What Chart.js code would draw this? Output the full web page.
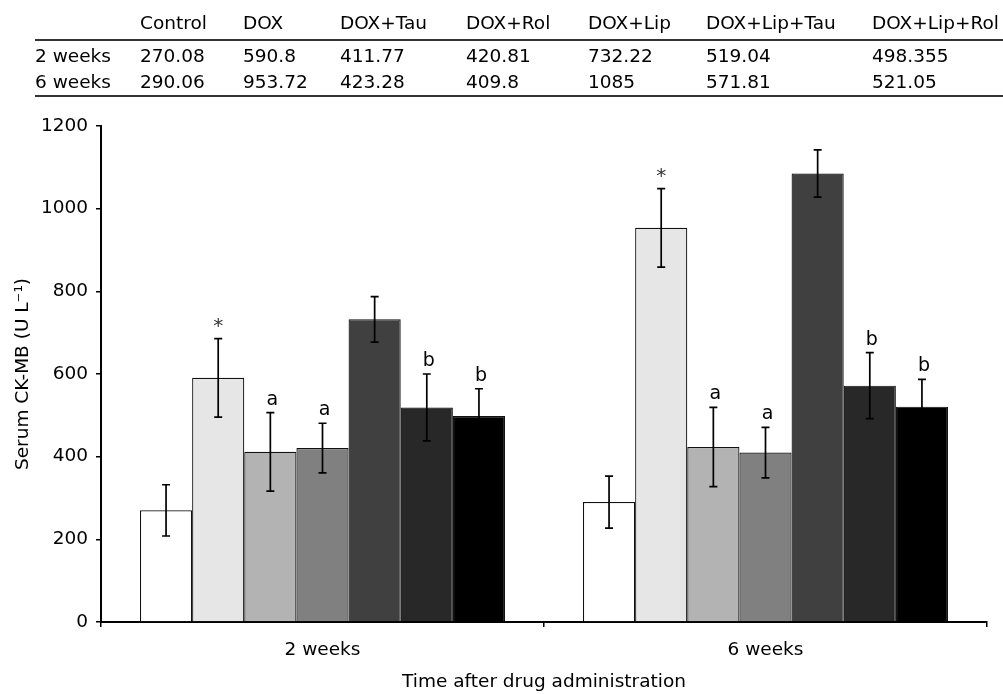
<!DOCTYPE html>
<html><head><meta charset="utf-8">
<script src="https://cdn.jsdelivr.net/npm/chart.js@4.4.1/dist/chart.umd.min.js"></script>
<style>
body{margin:0;background:#fff;}
#wrap{position:relative;width:1003px;height:694px;overflow:hidden;}
canvas{position:absolute;left:0;top:0;}
.t{position:absolute;font-family:"DejaVu Sans";font-size:18.5px;color:#000;white-space:nowrap;line-height:22px;transform:translateY(-50%);}
.rule{position:absolute;left:35px;right:0;height:2px;background:#333;}
</style></head><body>
<div id="wrap"><canvas id="c" width="1003" height="694"></canvas><div id="tbl"></div></div>
<script>
const categories = ['2 weeks', '6 weeks'];
const treatments = ['Control', 'DOX', 'DOX+Tau', 'DOX+Rol', 'DOX+Lip', 'DOX+Lip+Tau', 'DOX+Lip+Rol'];
const values2wk = [270.08, 590.8, 411.77, 420.81, 732.22, 519.04, 498.355];
const values6wk = [290.06, 953.72, 423.28, 409.8, 1085, 571.81, 521.05];
const err2wk = [62, 95, 95, 60, 55, 81, 66];
const err6wk = [63, 95, 96, 61, 57, 80, 66];
const sigMarks = ['', '*', 'a', 'a', '', 'b', 'b'];
const yTicks = [0, 200, 400, 600, 800, 1000, 1200];
const barColors = ['#ffffff', '#e6e6e6', '#b3b3b3', '#808080', '#404040', '#282828', '#000000'];

// ---- table above the chart (real text) ----
const tbl = document.getElementById('tbl');
const colX = [140, 243, 340, 466, 588, 706, 872];
const rowY = [23, 56, 82];
function addText(txt, x, y) {
  const d = document.createElement('div');
  d.className = 't'; d.textContent = txt;
  d.style.left = x + 'px'; d.style.top = y + 'px';
  tbl.appendChild(d);
}
treatments.forEach((t, i) => addText(t, colX[i], rowY[0]));
addText(categories[0], 35, rowY[1]);
addText(categories[1], 35, rowY[2]);
values2wk.forEach((v, i) => addText(String(v), colX[i], rowY[1]));
values6wk.forEach((v, i) => addText(String(v), colX[i], rowY[2]));
[39, 95].forEach(y => { const r = document.createElement('div'); r.className = 'rule'; r.style.top = y + 'px'; tbl.appendChild(r); });

// ---- chart ----
const FONT = 'DejaVu Sans';
const datasets = treatments.map((t, i) => ({
  label: t,
  data: [values2wk[i], values6wk[i]],
  errors: [err2wk[i], err6wk[i]],
  sig: sigMarks[i],
  backgroundColor: barColors[i],
  borderColor: '#111',
  borderWidth: 1.2,
  inflateAmount: 0
}));

const errPlugin = {
  id: 'errbars',
  afterDatasetsDraw(chart) {
    const ctx = chart.ctx, y = chart.scales.y;
    chart.data.datasets.forEach((ds, di) => {
      const meta = chart.getDatasetMeta(di);
      meta.data.forEach((bar, ci) => {
        const v = ds.data[ci], e = ds.errors[ci];
        const yt = y.getPixelForValue(v + e), yb = y.getPixelForValue(v - e);
        const x = bar.x;
        ctx.save();
        ctx.strokeStyle = '#000';
        ctx.lineWidth = 1.7;
        ctx.beginPath();
        ctx.moveTo(x, yt); ctx.lineTo(x, yb);
        ctx.moveTo(x - 4, yt); ctx.lineTo(x + 4, yt);
        ctx.moveTo(x - 4, yb); ctx.lineTo(x + 4, yb);
        ctx.stroke();
        if (ds.sig) {
          ctx.fillStyle = ds.sig === '*' ? '#333' : '#000';
          ctx.font = (ds.sig === '*' ? '20px ' : '19px ') + '"' + FONT + '"';
          ctx.textAlign = 'center';
          ctx.textBaseline = 'alphabetic';
          ctx.fillText(ds.sig, x + (ds.sig === '*' ? 0 : 2), yt - (ds.sig === '*' ? 7 : 8));
        }
        ctx.restore();
      });
    });
  }
};

new Chart(document.getElementById('c'), {
  type: 'bar',
  data: { labels: categories, datasets },
  options: {
    responsive: false,
    animation: false,
    devicePixelRatio: 1,
    layout: { padding: { top: 126, right: 16, left: 0, bottom: 0 } },
    plugins: { legend: { display: false }, tooltip: { enabled: false } },
    datasets: { bar: { categoryPercentage: 0.824, barPercentage: 1 } },
    scales: {
      x: {
        grid: { drawOnChartArea: false, drawTicks: true, tickLength: 5, color: '#000', lineWidth: 1.5, offset: true },
        border: { color: '#000', width: 2 },
        ticks: { color: '#000', font: { family: FONT, size: 18.5 }, padding: 12, maxRotation: 0 },
        title: { display: true, text: 'Time after drug administration', color: '#000', font: { family: FONT, size: 18.5 }, padding: { top: 0, bottom: 1 } },
        afterFit(s) { s.height = 72; }
      },
      y: {
        min: 0, max: 1200,
        afterBuildTicks(s) { s.ticks = yTicks.map(v => ({ value: v })); },
        grid: { drawOnChartArea: false, drawTicks: true, tickLength: 5, color: '#000', lineWidth: 1.5 },
        border: { color: '#000', width: 2 },
        ticks: { color: '#000', font: { family: FONT, size: 18.5 }, padding: 8, callback: v => String(v) },
        title: { display: true, text: 'Serum CK-MB (U L⁻¹)', color: '#000', font: { family: FONT, size: 18.5 }, padding: { top: 12.5, bottom: 0 } },
        afterFit(s) { s.width = 101; }
      }
    }
  },
  plugins: [errPlugin]
});
</script>
</body></html>
